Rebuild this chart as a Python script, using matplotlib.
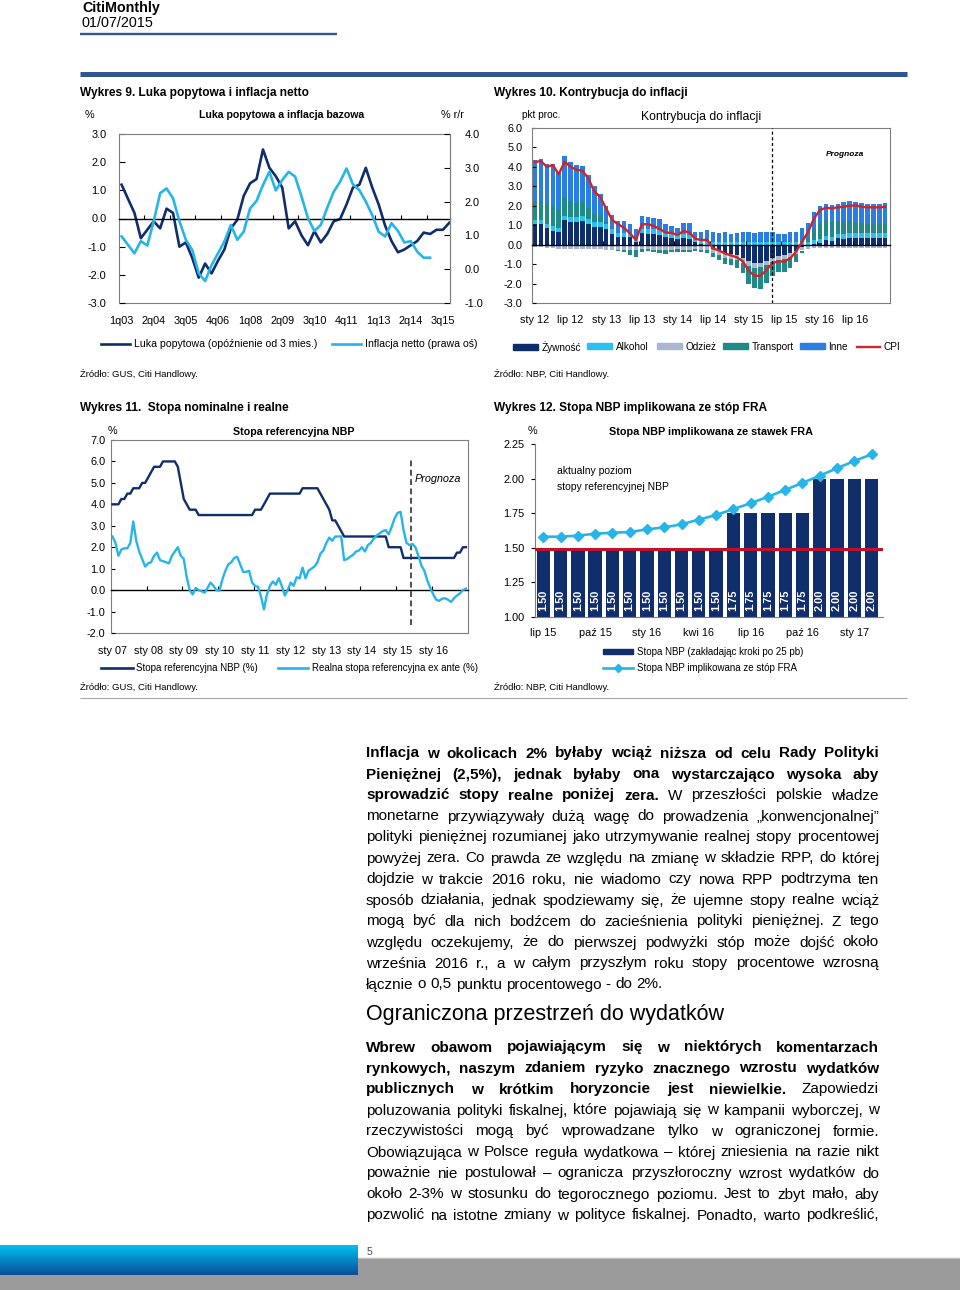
import numpy as np
import matplotlib
matplotlib.use('Agg')
import matplotlib.pyplot as plt
from matplotlib.lines import Line2D
from matplotlib.patches import Rectangle
from matplotlib.ticker import FormatStrFormatter
from matplotlib.colors import LinearSegmentedColormap

plt.rcParams['font.family'] = ['Liberation Sans', 'DejaVu Sans']

W, H = 960, 1290
PT = 100 / 72

NAVY = '#102d6c'
CYAN = '#26b5e6'
RED = '#d2232a'
RED2 = '#c0102a'
BLUE_RULE = '#2f5597'
FRAME = '#7f7f7f'

# ---------- Wykres 9: luka popytowa (lewa os) i inflacja netto (prawa os), kwartalnie od 1q03
q_labels = ['1q03', '2q04', '3q05', '4q06', '1q08', '2q09', '3q10', '4q11', '1q13', '2q14', '3q15']
luka = [1.2, 0.7, 0.2, -0.7, -0.4, -0.1, -0.35, 0.35, 0.2, -1.0, -0.85, -1.4, -2.1,
        -1.6, -1.95, -1.5, -1.1, -0.35, -0.05, 0.8, 1.25, 1.4, 2.45, 1.8, 1.5, 1.1,
        -0.35, -0.1, -0.6, -0.95, -0.45, -0.85, -0.55, -0.1, -0.02, 0.5, 1.1, 1.2,
        1.8, 1.1, 0.5, -0.25, -0.8, -1.2, -1.1, -0.95, -0.8, -0.5, -0.55, -0.4, -0.4, -0.15]
infl_netto = [0.97, 0.72, 0.47, 0.83, 0.70, 1.42, 2.25, 2.39, 2.10, 1.42, 0.87, 0.57,
              -0.12, -0.35, 0.12, 0.47, 0.82, 1.31, 0.87, 1.11, 1.80, 2.02, 2.49, 2.88,
              2.33, 2.64, 2.88, 2.74, 2.15, 1.51, 1.13, 1.31, 1.82, 2.29, 2.59, 2.98,
              2.51, 2.34, 2.00, 1.60, 1.11, 0.97, 1.36, 1.13, 0.79, 0.83, 0.52, 0.34, 0.34]

# ---------- Wykres 10: kontrybucje do CPI, miesiecznie sty 12 - gru 16
m10_labels = ['sty 12', 'lip 12', 'sty 13', 'lip 13', 'sty 14', 'lip 14',
              'sty 15', 'lip 15', 'sty 16', 'lip 16']
zywnosc = [1.05, 1.05, 0.85, 0.72, 0.63, 1.25, 1.18, 1.18, 1.22, 1.05, 0.90, 0.90,
           0.80, 0.55, 0.37, 0.37, 0.37, 0.15, 0.58, 0.55, 0.55, 0.50, 0.38, 0.33,
           0.28, 0.35, 0.30, 0.12, 0.05, -0.02, -0.20, -0.30, -0.45, -0.50, -0.55, -0.70,
           -0.85, -0.95, -0.95, -0.85, -0.70, -0.60, -0.55, -0.45, -0.30, -0.10, 0.00, 0.05,
           0.10, 0.25, 0.20, 0.35, 0.30, 0.35, 0.35, 0.35, 0.35, 0.35, 0.35, 0.35]
alkohol = [0.22, 0.22, 0.22, 0.22, 0.22, 0.25, 0.25, 0.25, 0.25, 0.25, 0.25, 0.25,
           0.25, 0.25, 0.25, 0.25, 0.22, 0.20, 0.25, 0.25, 0.25, 0.25, 0.22, 0.22,
           0.20, 0.20, 0.20, 0.15, 0.15, 0.15, 0.12, 0.12, 0.12, 0.12, 0.12, 0.12,
           0.12, 0.12, 0.12, 0.12, 0.12, 0.12, 0.12, 0.12, 0.12, 0.15, 0.15, 0.20,
           0.20, 0.20, 0.20, 0.20, 0.25, 0.25, 0.25, 0.25, 0.25, 0.25, 0.25, 0.25]
odziez = [-0.10, -0.10, -0.15, -0.15, -0.20, -0.20, -0.20, -0.20, -0.20, -0.20, -0.20, -0.20,
          -0.25, -0.25, -0.25, -0.28, -0.25, -0.25, -0.22, -0.22, -0.25, -0.25, -0.25, -0.25,
          -0.22, -0.25, -0.25, -0.22, -0.25, -0.25, -0.22, -0.25, -0.25, -0.25, -0.25, -0.25,
          -0.25, -0.25, -0.22, -0.20, -0.20, -0.20, -0.20, -0.20, -0.20, -0.20, -0.20, -0.15,
          -0.15, -0.15, -0.15, -0.15, -0.15, -0.15, -0.15, -0.15, -0.15, -0.15, -0.15, -0.15]
transport = [0.95, 1.00, 1.00, 1.05, 0.95, 0.95, 0.80, 0.70, 0.75, 0.60, 0.45, 0.30,
             0.15, 0.05, -0.10, -0.10, -0.30, -0.40, -0.15, -0.12, -0.12, -0.20, -0.22, -0.15,
             -0.15, -0.12, -0.15, -0.12, -0.15, -0.15, -0.20, -0.25, -0.30, -0.30, -0.40, -0.50,
             -0.90, -1.05, -1.10, -0.90, -0.70, -0.60, -0.65, -0.55, -0.40, -0.15, 0.20, 0.55,
             0.75, 0.80, 0.75, 0.65, 0.65, 0.60, 0.55, 0.50, 0.45, 0.45, 0.45, 0.45]
inne = [2.15, 2.15, 2.10, 2.15, 1.95, 2.10, 2.00, 1.95, 1.85, 1.70, 1.40, 1.15,
        0.80, 0.70, 0.60, 0.60, 0.47, 0.44, 0.63, 0.62, 0.57, 0.57, 0.46, 0.41,
        0.36, 0.55, 0.60, 0.40, 0.43, 0.60, 0.55, 0.50, 0.55, 0.45, 0.48, 0.52,
        0.55, 0.50, 0.55, 0.55, 0.52, 0.45, 0.42, 0.52, 0.55, 0.70, 0.75, 0.90,
        0.95, 0.85, 0.90, 0.90, 1.00, 1.05, 1.05, 1.05, 1.05, 1.05, 1.05, 1.10]
cpi = [4.25, 4.30, 4.00, 4.10, 3.62, 4.27, 4.00, 3.85, 3.80, 3.40, 2.73, 2.45,
       1.85, 1.27, 1.05, 0.87, 0.58, 0.24, 1.05, 1.05, 0.97, 0.80, 0.62, 0.60,
       0.50, 0.70, 0.63, 0.30, 0.24, 0.25, -0.20, -0.30, -0.45, -0.55, -0.65, -0.85,
       -1.35, -1.60, -1.60, -1.30, -0.95, -0.85, -0.87, -0.70, -0.35, 0.15, 0.65, 1.35,
       1.78, 1.90, 1.87, 1.92, 1.96, 2.00, 2.02, 1.95, 1.92, 1.92, 1.92, 1.95]
prognoza10 = 39.9

# ---------- Wykres 11: stopa referencyjna i realna, miesiecznie sty 07 - gru 16
m11_labels = ['sty 07', 'sty 08', 'sty 09', 'sty 10', 'sty 11', 'sty 12',
              'sty 13', 'sty 14', 'sty 15', 'sty 16']
stopa_ref = [4.00, 4.00, 4.00, 4.25, 4.25, 4.50, 4.50, 4.75, 4.75, 4.75, 5.00, 5.00,
             5.25, 5.50, 5.75, 5.75, 5.75, 6.00, 6.00, 6.00, 6.00, 6.00, 5.75, 5.00,
             4.25, 4.00, 3.75, 3.75, 3.75, 3.50, 3.50, 3.50, 3.50, 3.50, 3.50, 3.50,
             3.50, 3.50, 3.50, 3.50, 3.50, 3.50, 3.50, 3.50, 3.50, 3.50, 3.50, 3.50,
             3.75, 3.75, 3.75, 4.00, 4.25, 4.50, 4.50, 4.50, 4.50, 4.50, 4.50, 4.50,
             4.50, 4.50, 4.50, 4.50, 4.75, 4.75, 4.75, 4.75, 4.75, 4.75, 4.50, 4.25,
             4.00, 3.75, 3.25, 3.25, 3.00, 2.75, 2.50, 2.50, 2.50, 2.50, 2.50, 2.50,
             2.50, 2.50, 2.50, 2.50, 2.50, 2.50, 2.50, 2.50, 2.50, 2.00, 2.00, 2.00,
             2.00, 2.00, 1.50, 1.50, 1.50, 1.50, 1.50, 1.50, 1.50, 1.50, 1.50, 1.50,
             1.50, 1.50, 1.50, 1.50, 1.50, 1.50, 1.50, 1.50, 1.75, 1.75, 2.00, 2.00]
stopa_realna = [2.50, 2.20, 1.60, 1.90, 1.95, 1.95, 2.20, 3.20, 2.30, 1.80, 1.45, 1.10,
                1.25, 1.30, 1.60, 1.75, 1.40, 1.35, 1.30, 1.25, 1.60, 1.80, 2.00, 1.60,
                1.45, 0.60, 0.00, -0.20, 0.10, 0.00, -0.05, -0.12, 0.10, 0.35, 0.20, 0.00,
                -0.02, 0.50, 0.90, 1.20, 1.30, 1.50, 1.55, 1.20, 0.85, 0.85, 0.90, 0.35,
                0.20, 0.15, -0.30, -0.90, -0.20, 0.20, 0.40, 0.25, 0.55, 0.20, -0.25, 0.00,
                0.35, 0.20, 0.60, 0.55, 1.05, 0.55, 0.90, 1.00, 1.10, 1.30, 1.70, 1.85,
                2.20, 2.45, 2.30, 2.50, 2.50, 2.50, 1.40, 1.45, 1.55, 1.65, 1.80, 1.85,
                2.00, 1.80, 2.10, 2.20, 2.40, 2.55, 2.65, 2.75, 2.80, 2.60, 2.95, 3.35,
                3.60, 3.65, 2.80, 2.20, 2.10, 2.15, 2.00, 1.60, 1.15, 0.90, 0.45, 0.10,
                -0.20, -0.45, -0.50, -0.40, -0.38, -0.45, -0.55, -0.38, -0.25, -0.15, 0.00, 0.07]
prognoza11 = 100.4

# ---------- Wykres 12: stopa NBP i stopa implikowana z FRA
fra_months = ['lip 15', 'sie 15', 'wrz 15', 'paź 15', 'lis 15', 'gru 15', 'sty 16',
              'lut 16', 'mar 16', 'kwi 16', 'maj 16', 'cze 16', 'lip 16', 'sie 16',
              'wrz 16', 'paź 16', 'lis 16', 'gru 16', 'sty 17', 'lut 17']
stopa_nbp = [1.50, 1.50, 1.50, 1.50, 1.50, 1.50, 1.50, 1.50, 1.50, 1.50, 1.50,
             1.75, 1.75, 1.75, 1.75, 1.75, 2.00, 2.00, 2.00, 2.00]
stopa_fra = [1.580, 1.580, 1.588, 1.602, 1.609, 1.614, 1.633, 1.648, 1.670, 1.704,
             1.737, 1.781, 1.822, 1.870, 1.919, 1.970, 2.023, 2.076, 2.129, 2.177]
aktualna = 1.49

# ---------- tekst
para1 = [
    [(1, 'Inflacja w okolicach 2% byłaby wciąż niższa od celu Rady Polityki')],
    [(1, 'Pieniężnej (2,5%), jednak byłaby ona wystarczająco wysoka aby')],
    [(1, 'sprowadzić stopy realne poniżej zera.'), (0, 'W przeszłości polskie władze')],
    [(0, 'monetarne przywiązywały dużą wagę do prowadzenia „konwencjonalnej”')],
    [(0, 'polityki pieniężnej rozumianej jako utrzymywanie realnej stopy procentowej')],
    [(0, 'powyżej zera. Co prawda ze względu na zmianę w składzie RPP, do której')],
    [(0, 'dojdzie w trakcie 2016 roku, nie wiadomo czy nowa RPP podtrzyma ten')],
    [(0, 'sposób działania, jednak spodziewamy się, że ujemne stopy realne wciąż')],
    [(0, 'mogą być dla nich bodźcem do zacieśnienia polityki pieniężnej. Z tego')],
    [(0, 'względu oczekujemy, że do pierwszej podwyżki stóp może dojść około')],
    [(0, 'września 2016 r., a w całym przyszłym roku stopy procentowe wzrosną')],
    [(0, 'łącznie o 0,5 punktu procentowego - do 2%.')],
]
heading = 'Ograniczona przestrzeń do wydatków'
para2 = [
    [(1, 'Wbrew obawom pojawiającym się w niektórych komentarzach')],
    [(1, 'rynkowych, naszym zdaniem ryzyko znacznego wzrostu wydatków')],
    [(1, 'publicznych w krótkim horyzoncie jest niewielkie.'), (0, 'Zapowiedzi')],
    [(0, 'poluzowania polityki fiskalnej, które pojawiają się w kampanii wyborczej, w')],
    [(0, 'rzeczywistości mogą być wprowadzane tylko w ograniczonej formie.')],
    [(0, 'Obowiązująca w Polsce reguła wydatkowa – której zniesienia na razie nikt')],
    [(0, 'poważnie nie postulował – ogranicza przyszłoroczny wzrost wydatków do')],
    [(0, 'około 2-3% w stosunku do tegorocznego poziomu. Jest to zbyt mało, aby')],
    [(0, 'pozwolić na istotne zmiany w polityce fiskalnej. Ponadto, warto podkreślić,')],
]

fig = plt.figure(figsize=(W / 100, H / 100), dpi=100)


def rect(l, t, r, b):
    return [l / W, 1 - b / H, (r - l) / W, (b - t) / H]


def txt(x, y, s, size, **kw):
    # y is the middle of capital letters, in page pixels
    return fig.text(x / W, 1 - (y + 0.36 * size * PT) / H, s, fontsize=size, va='baseline', **kw)


def hline(x0, x1, y, color, lw):
    fig.add_artist(Line2D([x0 / W, x1 / W], [1 - y / H] * 2, color=color, lw=lw,
                          solid_capstyle='butt'))


def legend_item(handle, label, x, y, hl, size=7.0):
    fig.legend([handle], [label], loc='center left', bbox_to_anchor=(x / W, 1 - y / H),
               frameon=False, fontsize=size, handlelength=hl, handleheight=0.55,
               handletextpad=0.35, borderpad=0, borderaxespad=0)


def frame(ax):
    for s in ax.spines.values():
        s.set_color(FRAME)
        s.set_linewidth(0.8)


def zero_axis(ax, tick_pos, lab_pos, labels, pad):
    ax.spines['bottom'].set_position(('data', 0))
    ax.spines['bottom'].set_color('black')
    ax.spines['bottom'].set_linewidth(1.0)
    ax.set_xticks(tick_pos)
    ax.tick_params(axis='x', direction='in', length=3, width=0.8, labelbottom=False)
    sec = ax.secondary_xaxis('bottom')
    sec.set_xticks(lab_pos, labels)
    sec.tick_params(length=0, pad=pad, labelsize=7.8)
    sec.spines['bottom'].set_color(FRAME)
    sec.spines['bottom'].set_linewidth(0.8)


# ---------- naglowek strony
txt(82, 7, 'CitiMonthly', 10.3, fontweight='bold')
txt(82, 22, '01/07/2015', 10.4)
hline(80, 337, 34.3, BLUE_RULE, 1.7)
hline(80, 907, 73.5, BLUE_RULE, 3.6)

# ---------- Wykres 9
txt(80, 92, 'Wykres 9. Luka popytowa i inflacja netto', 8.6, fontweight='bold')
txt(85, 114, '%', 7.8)
txt(281.5, 114, 'Luka popytowa a inflacja bazowa', 7.6, fontweight='bold', ha='center')
txt(441, 114, '% r/r', 7.8)

ax9 = fig.add_axes(rect(119, 134, 450, 303))
ax9.plot(np.arange(len(luka)), luka, color=NAVY, lw=1.9)
ax9.set_xlim(-0.4, 51.1)
ax9.set_ylim(-3, 3)
ax9.set_yticks(np.arange(-3, 3.5, 1.0))
ax9.yaxis.set_major_formatter(FormatStrFormatter('%.1f'))
ax9.tick_params(axis='y', direction='in', length=4, width=0.8, pad=9.0, labelsize=7.9)
frame(ax9)
zero_axis(ax9, np.arange(3.5, 51, 4), np.arange(0, len(luka), 5), q_labels, pad=9)
ax9r = ax9.twinx()
ax9r.plot(np.arange(len(infl_netto)), infl_netto, color=CYAN, lw=1.9)
ax9r.set_ylim(-1, 4)
ax9r.set_yticks(np.arange(-1, 4.5, 1.0))
ax9r.yaxis.set_major_formatter(FormatStrFormatter('%.1f'))
ax9r.tick_params(axis='y', direction='in', length=4, width=0.8, pad=10.4, labelsize=7.9)
for s in ['top', 'bottom', 'left']:
    ax9r.spines[s].set_visible(False)
ax9r.spines['right'].set_color(FRAME)
ax9r.spines['right'].set_linewidth(0.8)

legend_item(Line2D([], [], color=NAVY, lw=1.9), 'Luka popytowa (opóźnienie od 3 mies.)', 101, 344, 2.75, 7.6)
legend_item(Line2D([], [], color=CYAN, lw=1.9), 'Inflacja netto (prawa oś)', 332, 344, 2.75, 7.6)
txt(80, 374, 'Źródło: GUS, Citi Handlowy.', 6.8)

# ---------- Wykres 10
txt(494, 92, 'Wykres 10. Kontrybucja do inflacji', 8.6, fontweight='bold')
txt(522, 114, 'pkt proc.', 7.3)
txt(701, 116, 'Kontrybucja do inflacji', 8.8, ha='center')

ax10 = fig.add_axes(rect(532, 128, 890, 303))
m10 = np.arange(len(cpi))
comp_names = ['Żywność', 'Alkohol', 'Odzież', 'Transport', 'Inne']
comp_cols = ['#0f2c6b', '#2cc0ee', '#a9b7cf', '#1f8a88', '#2a7de1']
pos_base = np.zeros(len(cpi))
neg_base = np.zeros(len(cpi))
for vals, col in zip([zywnosc, alkohol, odziez, transport, inne], comp_cols):
    v = np.array(vals)
    ax10.bar(m10, v, bottom=np.where(v >= 0, pos_base, neg_base), width=0.75,
             color=col, lw=0, zorder=1)
    pos_base += np.clip(v, 0, None)
    neg_base += np.clip(v, None, 0)
ax10.plot(m10, cpi, color=RED, lw=1.7, zorder=4)
ax10.axvline(prognoza10, color='black', lw=0.9, ls=(0, (2.5, 2)), zorder=4)
ax10.set_xlim(-0.5, 59.8)
ax10.set_ylim(-3, 6)
ax10.set_yticks(np.arange(-3, 6.5, 1.0))
ax10.yaxis.set_major_formatter(FormatStrFormatter('%.1f'))
ax10.tick_params(axis='y', direction='in', length=3, width=0.8, pad=7, labelsize=7.8)
frame(ax10)
zero_axis(ax10, np.arange(5.5, 59, 6), np.arange(0, len(cpi), 6), m10_labels, pad=8.5)
txt(845, 153, 'Prognoza', 6.0, fontweight='bold', style='italic', ha='center')

leg10_x = [513, 587, 657, 723, 800]
for name, col, x in zip(comp_names, comp_cols, leg10_x):
    legend_item(Rectangle((0, 0), 1, 1, color=col), name, x, 347, 2.5, 7.2)
legend_item(Line2D([], [], color=RED, lw=1.7), 'CPI', 857, 347, 2.3, 7.2)
txt(494, 374, 'Źródło: NBP, Citi Handlowy.', 6.8)

# ---------- Wykres 11
txt(80, 407, 'Wykres 11.  Stopa nominalne i realne', 8.6, fontweight='bold')
txt(108, 430, '%', 7.8)
txt(294, 431, 'Stopa referencyjna NBP', 7.7, fontweight='bold', ha='center')

ax11 = fig.add_axes(rect(111, 440, 468, 633))
m11 = np.arange(len(stopa_ref))
ax11.plot(m11, stopa_ref, color=NAVY, lw=1.7, zorder=3)
ax11.plot(m11, stopa_realna, color=CYAN, lw=1.7, zorder=3)
ax11.vlines(prognoza11, -1.65, 6.05, colors='#505050', linestyles=(0, (3, 1.8)), lw=1.4, zorder=2)
ax11.set_xlim(-0.5, 119.7)
ax11.set_ylim(-2, 7)
ax11.set_yticks(np.arange(-2, 7.5, 1.0))
ax11.yaxis.set_major_formatter(FormatStrFormatter('%.1f'))
ax11.tick_params(axis='y', direction='in', length=3, width=0.8, pad=4.0, labelsize=7.9)
frame(ax11)
zero_axis(ax11, np.arange(11.5, 119, 12), np.arange(0, len(stopa_ref), 12), m11_labels, pad=9.5)
txt(415, 478, 'Prognoza', 7.8, style='italic')

legend_item(Line2D([], [], color=NAVY, lw=1.9), 'Stopa referencyjna NBP (%)', 101, 668, 3.3, 7.0)
legend_item(Line2D([], [], color=CYAN, lw=1.9), 'Realna stopa referencyjna ex ante (%)', 278, 668, 3.1, 7.0)
txt(80, 687, 'Źródło: GUS, Citi Handlowy.', 6.8)

# ---------- Wykres 12
txt(494, 407, 'Wykres 12. Stopa NBP implikowana ze stóp FRA', 8.6, fontweight='bold')
txt(528, 430, '%', 7.8)
txt(711, 431, 'Stopa NBP implikowana ze stawek FRA', 7.8, fontweight='bold', ha='center')

ax12 = fig.add_axes(rect(535, 444.3, 883, 616.7))
x12 = np.arange(len(stopa_nbp))
ax12.bar(x12, stopa_nbp, width=0.77, color=NAVY, lw=0, zorder=2)
for i, v in zip(x12, stopa_nbp):
    ax12.text(i, 1.12, '%.2f' % v, rotation=90, color='white', fontsize=7.9,
              fontweight='bold', ha='center', va='center', zorder=4)
ax12.axhline(aktualna, color=RED2, lw=2.2, zorder=3)
ax12.plot(x12, stopa_fra, color=CYAN, lw=1.9, marker='D', ms=5.2, zorder=5)
ax12.set_xlim(-0.48, 19.66)
ax12.set_ylim(1.0, 2.25)
ax12.set_yticks(np.arange(1.0, 2.3, 0.25))
ax12.yaxis.set_major_formatter(FormatStrFormatter('%.2f'))
ax12.set_xticks(x12[::3], fra_months[::3])
ax12.tick_params(axis='x', length=0, pad=8, labelsize=7.8)
ax12.tick_params(axis='y', direction='out', length=3, width=0.8, pad=4.5, labelsize=7.8)
for s in ['top', 'right']:
    ax12.spines[s].set_visible(False)
for s in ['left', 'bottom']:
    ax12.spines[s].set_color(FRAME)
    ax12.spines[s].set_linewidth(0.8)
txt(557, 470, 'aktualny poziom', 7.5)
txt(557, 486, 'stopy referencyjnej NBP', 7.5)

legend_item(Rectangle((0, 0), 1, 1, color=NAVY), 'Stopa NBP (zakładając kroki po 25 pb)', 603, 652, 3.1, 7.0)
legend_item(Line2D([], [], color=CYAN, lw=1.9, marker='D', ms=4.5), 'Stopa NBP implikowana ze stóp FRA', 603, 668, 3.1, 7.0)
txt(494, 687, 'Źródło: NBP, Citi Handlowy.', 6.8)

hline(80, 907, 698, '#a6a6a6', 0.8)

# ---------- tekst wyjustowany
renderer = fig.canvas.get_renderer()
TXT_L, TXT_R = 366, 879
BODY_FS = 11.0


def body_line(segments, y_base, justify):
    words = []
    for bold, s in segments:
        for w in s.split():
            words.append((w, bold))
    arts = [fig.text(0, 1 - y_base / H, w, fontsize=BODY_FS, va='baseline', ha='left',
                     fontweight='bold' if b else 'normal') for w, b in words]
    widths = [a.get_window_extent(renderer).width for a in arts]
    if justify and len(arts) > 1:
        gap = (TXT_R - TXT_L - sum(widths)) / (len(arts) - 1)
    else:
        gap = 0.278 * BODY_FS * PT
    x = TXT_L
    for a, w in zip(arts, widths):
        a.set_x(x / W)
        x += w + gap


for k, line in enumerate(para1):
    body_line(line, 757.5 + 21 * k, k < len(para1) - 1)
fig.text(TXT_L / W, 1 - 1019.8 / H, heading, fontsize=15.5, va='baseline')
for k, line in enumerate(para2):
    body_line(line, 1051.5 + 21 * k, True)

# ---------- stopka
fig.add_artist(Rectangle((0, 0), 1, (H - 1258) / H, transform=fig.transFigure,
                         color='#9b9b9b', zorder=-1))
hline(358, 960, 1257.5, '#c4c4c4', 0.7)
fax = fig.add_axes(rect(0, 1245, 358, 1275))
fax.imshow(np.linspace(0, 1, 64).reshape(-1, 1), aspect='auto', extent=[0, 1, 1, 0],
           cmap=LinearSegmentedColormap.from_list('stopka', ['#00c0f3', '#0a4e98']))
fax.axis('off')
txt(367, 1251, '5', 7.5, color='#3a4f6b')

fig.savefig('out.png', dpi=100)
